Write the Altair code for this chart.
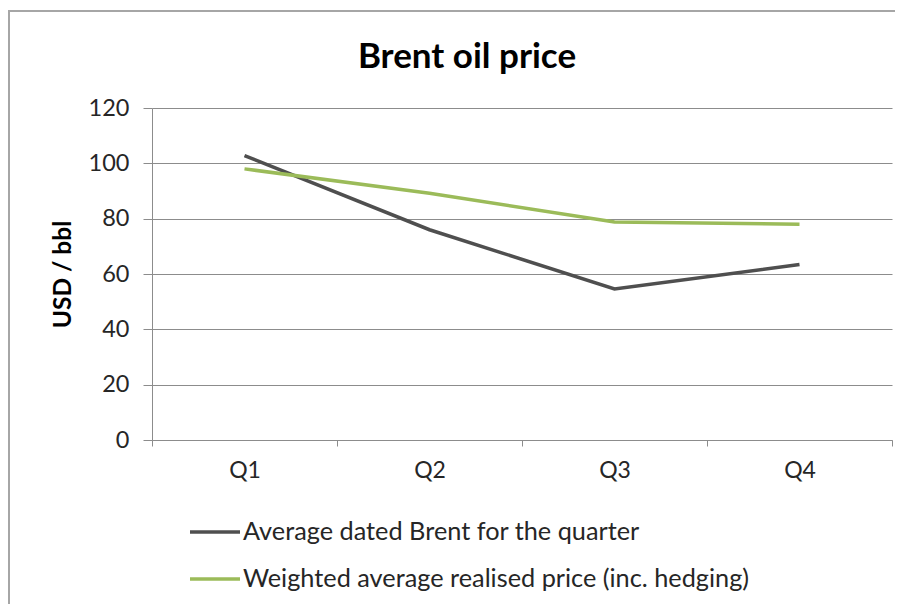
import altair as alt
import pandas as pd

quarters = ["Q1", "Q2", "Q3", "Q4"]
brent = [102.8, 76.0, 54.6, 63.4]
realised = [98.0, 89.2, 78.8, 78.0]
series_names = [
    "Average dated Brent for the quarter",
    "Weighted average realised price (inc. hedging)",
]
series_colors = ["#4f4f4f", "#9bbb59"]
y_ticks = [0, 20, 40, 60, 80, 100, 120]

rows = []
for q, v in zip(quarters, brent):
    rows.append({"quarter": q, "series": series_names[0], "value": v})
for q, v in zip(quarters, realised):
    rows.append({"quarter": q, "series": series_names[1], "value": v})
df = pd.DataFrame(rows)

FONT = "Lato"
GRID = "#8c8c8c"
TEXT = "#262626"

lines = alt.Chart(df).mark_line(strokeWidth=3.5).encode(
    x=alt.X(
        "quarter:N",
        sort=quarters,
        bandPosition=0.5,
        scale=alt.Scale(type="band", paddingInner=0, paddingOuter=0),
        axis=alt.Axis(
            title=None,
            labelAngle=0,
            tickBand="extent",
            tickSize=6,
            tickColor=GRID,
            domainColor=GRID,
            labelFont=FONT,
            labelFontSize=23,
            labelColor=TEXT,
            labelPadding=13,
            grid=False,
        ),
    ),
    y=alt.Y(
        "value:Q",
        scale=alt.Scale(domain=[0, 120], nice=False),
        axis=alt.Axis(
            title="USD / bbl",
            values=y_ticks,
            grid=True,
            gridColor=GRID,
            tickColor=GRID,
            domainColor=GRID,
            tickSize=9,
            labelFont=FONT,
            labelFontSize=23.5,
            labelColor=TEXT,
            labelPadding=14,
            titleFont=FONT,
            titleFontSize=24.5,
            titleFontWeight="bold",
            titleColor="#000000",
            titleX=-89,
            titleY=166,
            titleAngle=270,
            titleAlign="center",
            titleBaseline="middle",
        ),
    ),
    color=alt.Color(
        "series:N",
        scale=alt.Scale(domain=series_names, range=series_colors),
        sort=series_names,
        legend=alt.Legend(
            title=None,
            orient="none",
            legendX=36,
            legendY=397,
            symbolType="stroke",
            symbolSize=2500,
            symbolStrokeWidth=3.5,
            labelFont=FONT,
            labelFontSize=25.3,
            labelColor=TEXT,
            labelOffset=1,
            rowPadding=6,
            labelLimit=700,
        ),
    ),
)

frame = alt.Chart(alt.Data(values=[{"a": 1}])).mark_rect(
    fill="transparent", stroke="#a6a6a6", strokeWidth=2
).encode(
    x=alt.value(-143),
    x2=alt.value(800),
    y=alt.value(-97),
    y2=alt.value(600),
)

chart = alt.layer(frame, lines).properties(
    width=740,
    height=332,
    autosize=alt.AutoSizeParams(type="none"),
    padding={"left": 144, "top": 100, "right": 3, "bottom": 164},
    title=alt.TitleParams(
        "Brent oil price",
        font=FONT,
        fontSize=35,
        fontWeight="bold",
        color="#000000",
        dx=-55,
        dy=65,
        offset=0,
    ),
).configure_view(stroke=None)

chart.save("out.html", embed_options={"renderer": "svg", "actions": False})
